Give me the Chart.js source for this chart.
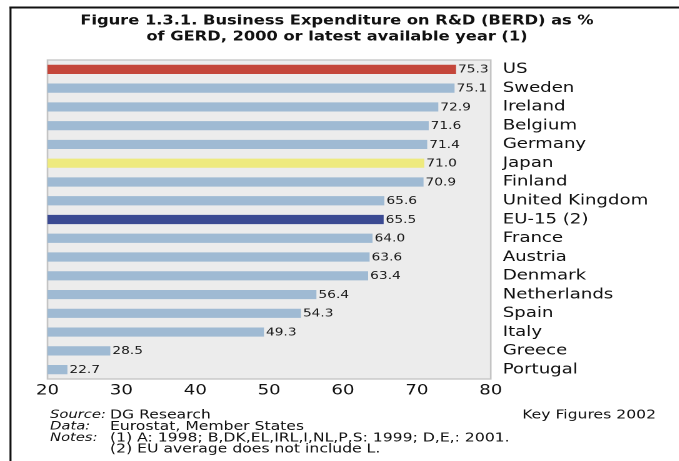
<!DOCTYPE html>
<html>
<head>
<meta charset="utf-8">
<script src="https://cdn.jsdelivr.net/npm/chart.js@4/dist/chart.umd.min.js"></script>
<style>
  html, body { margin: 0; padding: 0; background: #fff; overflow: hidden; }
  #c { display: block; transform: scaleX(1.25); transform-origin: 0 0; width: 543.2px; height: 461px; }
</style>
</head>
<body>
<canvas id="c" width="543.2" height="461"></canvas>
<script>
// ---- data ----
const categories = ["US", "Sweden", "Ireland", "Belgium", "Germany", "Japan", "Finland",
  "United Kingdom", "EU-15 (2)", "France", "Austria", "Denmark", "Netherlands",
  "Spain", "Italy", "Greece", "Portugal"];
const berdShare = [75.3, 75.1, 72.9, 71.6, 71.4, 71.0, 70.9, 65.6, 65.5, 64.0, 63.6,
  63.4, 56.4, 54.3, 49.3, 28.5, 22.7];
const xTicks = [20, 30, 40, 50, 60, 70, 80];
const titleLines = ["Figure 1.3.1. Business Expenditure on R&D (BERD) as %",
  "of GERD, 2000 or latest available year (1)"];
const footerRows = [
  ["Source:", "DG Research"],
  ["Data:", "Eurostat, Member States"],
  ["Notes:", "(1) A: 1998; B,DK,EL,IRL,I,NL,P,S: 1999; D,E,: 2001."],
  ["", "(2) EU average does not include L."]
];
const footerRight = "Key Figures 2002";

// ---- styles ----
const S = 1.25; // horizontal stretch of the page
const W = 679 / S;
const baseColor = "#9fbad3";
const highlight = { "US": "#c4463a", "Japan": "#eeea7e", "EU-15 (2)": "#3b4a92" };
const barColors = categories.map(c => highlight[c] || baseColor);
const FONT = "'DejaVu Sans', sans-serif";

const decor = {
  id: "decor",
  beforeDraw(chart) {
    const { ctx, chartArea: a, width, height } = chart;
    ctx.save();
    ctx.fillStyle = "#fff";
    ctx.fillRect(0, 0, width, height);
    // outer frame (top + left)
    ctx.fillStyle = "#111";
    ctx.fillRect(9.5 / S, 6.5, width, 2);
    ctx.fillRect(9.5 / S, 6.5, 2 / S, height);
    // plot background & border
    ctx.fillStyle = "#ececec";
    ctx.fillRect(a.left, a.top, a.right - a.left, a.bottom - a.top);
    ctx.strokeStyle = "#c4c4c4";
    ctx.lineWidth = 1.3;
    ctx.strokeRect(a.left, a.top, a.right - a.left, a.bottom - a.top);
    // title
    ctx.fillStyle = "#111";
    ctx.font = "bold 13px " + FONT;
    ctx.textAlign = "center";
    ctx.textBaseline = "middle";
    ctx.fillText(titleLines[0], 337 / S, 21);
    ctx.fillText(titleLines[1], 337 / S, 37);
    // footer
    const ys = [415, 426.5, 438, 449];
    ctx.textAlign = "left";
    footerRows.forEach((r, i) => {
      ctx.font = "italic 11.8px " + FONT;
      if (r[0]) ctx.fillText(r[0], 50 / S, ys[i]);
      ctx.font = "12.5px " + FONT;
      ctx.fillText(r[1], 110 / S, ys[i]);
    });
    ctx.textAlign = "right";
    ctx.fillText(footerRight, 656 / S, ys[0]);
    ctx.restore();
  },
  afterDatasetsDraw(chart) {
    const { ctx } = chart;
    const meta = chart.getDatasetMeta(0);
    ctx.save();
    ctx.fillStyle = "#1a1a1a";
    ctx.font = "11px " + FONT;
    ctx.textAlign = "left";
    ctx.textBaseline = "middle";
    meta.data.forEach((bar, i) => {
      ctx.fillText(berdShare[i].toFixed(1), bar.x + 2 / S, bar.y + 0.5);
    });
    ctx.restore();
  }
};

new Chart(document.getElementById("c"), {
  type: "bar",
  data: {
    labels: categories,
    datasets: [{
      data: berdShare,
      backgroundColor: barColors,
      borderWidth: 0,
      categoryPercentage: 1.0,
      barPercentage: 0.49
    }]
  },
  options: {
    indexAxis: "y",
    responsive: false,
    devicePixelRatio: 2,
    animation: false,
    events: [],
    layout: { padding: { left: 47.5 / S, top: 60, right: 0, bottom: 0 } },
    plugins: { legend: { display: false }, tooltip: { enabled: false }, title: { display: false } },
    scales: {
      x: {
        type: "linear",
        min: xTicks[0],
        max: xTicks[xTicks.length - 1],
        afterBuildTicks(scale) { scale.ticks = xTicks.map(v => ({ value: v })); },
        grid: { display: false, drawTicks: false },
        border: { display: false },
        ticks: { font: { family: FONT, size: 14.5 }, color: "#111", padding: 3 },
        afterFit(scale) { scale.height = 461 - 379; }
      },
      y: {
        position: "right",
        grid: { display: false, drawTicks: false },
        border: { display: false },
        ticks: { font: { family: FONT, size: 14.5 }, color: "#111", padding: 12 / S, autoSkip: false },
        afterFit(scale) { scale.width = W - 491 / S; }
      }
    }
  },
  plugins: [decor]
});
</script>
</body>
</html>
